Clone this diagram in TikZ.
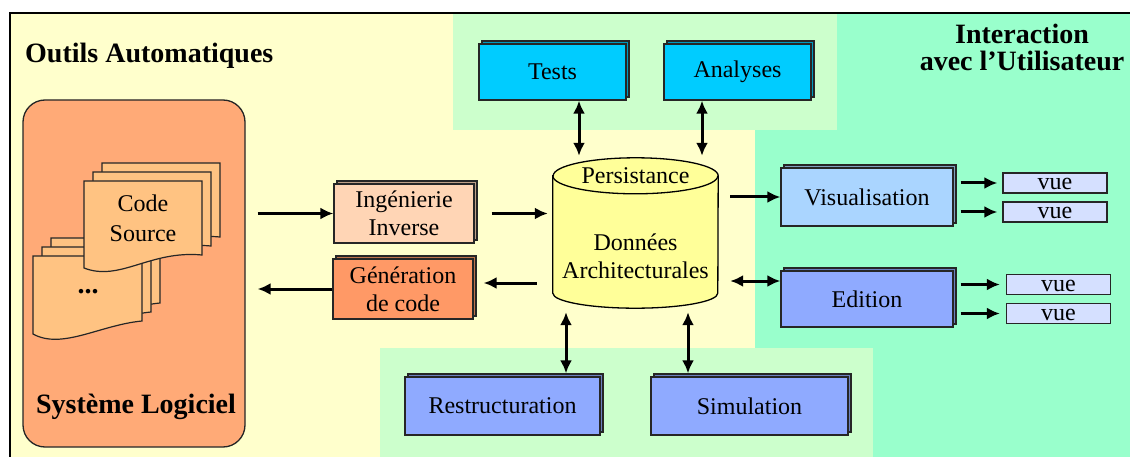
\documentclass[tikz,border=0pt]{standalone}
\usepackage{fontspec}
\setmainfont{Liberation Serif}
\usetikzlibrary{arrows.meta,shadows}

\definecolor{fondjaune}{HTML}{FFFFCC}
\definecolor{fondvert}{HTML}{CCFFCC}
\definecolor{fondmenthe}{HTML}{99FFCC}
\definecolor{orlogiciel}{HTML}{FFAA77}
\definecolor{orpage}{HTML}{FFC382}
\definecolor{peche}{HTML}{FFD5B5}
\definecolor{orgen}{HTML}{FF9966}
\definecolor{jaunedb}{HTML}{FFFF99}
\definecolor{cyanbox}{HTML}{00CCFF}
\definecolor{bleuvis}{HTML}{AAD5FF}
\definecolor{bleuedit}{HTML}{8FAAFF}
\definecolor{bleuvue}{HTML}{D5E0FF}

\tikzset{
  block/.style={draw=black!85, line width=1.3pt, fill=#1, inner sep=0pt,
    font=\fontsize{24}{28}\selectfont, align=center,
    copy shadow={shadow xshift=3pt, shadow yshift=3pt, fill=#1!75!black, draw=black!85}},
  vuebox/.style={draw=black!85, line width=1.3pt, fill=bleuvue, inner sep=0pt,
    minimum width=104pt, minimum height=20pt, text height=14pt, text depth=0pt,
    font=\fontsize{24}{28}\selectfont},
  page/.style={draw=black!85, line width=1.2pt, fill=orpage},
  link/.style={line width=3pt, >={Latex[length=13pt,width=12pt]}},
  titre/.style={font=\bfseries\fontsize{28}{25}\selectfont, inner sep=0pt},
  texte/.style={font=\fontsize{24}{28}\selectfont, inner sep=0pt, align=center}
}

\begin{document}
\begin{tikzpicture}[x=1pt, y=-1pt]
  \useasboundingbox (0,0) rectangle (1130,457);

  % zones de fond
  \fill[fondjaune] (10,13) rectangle (1130,457);
  \fill[fondmenthe] (755,13) rectangle (1130,457);
  \fill[fondvert] (453,13) rectangle (837,130);
  \fill[fondvert] (380,348) rectangle (873,457);
  \draw[line width=1.5pt] (10,457) -- (10,13) -- (1130,13);

  \node[titre, anchor=base west] (outils) at (25,63) {Outils Automatiques};
  \node[titre, anchor=base] (interaction) at (1022,44) {Interaction};
  \node[titre, anchor=base] (utilisateur) at (1022,71) {avec l’Utilisateur};

  % systeme logiciel
  \node[draw=black!85, line width=1.3pt, fill=orlogiciel, rounded corners=22pt,
    minimum width=222pt, minimum height=347pt] (sys) at (134,273.5) {};
  \node[titre, anchor=base] (syslabel) at (136,413) {Système Logiciel};

  % piles de pages
  \foreach \d in {18,9,0}
    \draw[page, shift={(\d,-\d)}] (33,256) -- (142,256) -- (142,321)
      .. controls (100,325) and (62,350) .. (33,334) -- cycle;
  \foreach \d in {18,9,0}
    \draw[page, shift={(\d,-\d)}] (84,181) -- (202,181) -- (202,255)
      .. controls (150,250) and (120,282) .. (84,268) -- cycle;
  \node[texte, font=\fontsize{24}{30}\selectfont] (src) at (143,218) {Code\\Source};
  \node[titre] (dots) at (88,292) {...};

  % blocs
  \node[block=cyanbox, minimum width=147pt, minimum height=56pt] (tests) at (552.5,72) {Tests};
  \node[block=cyanbox, minimum width=147pt, minimum height=56pt] (analyses) at (737.5,72) {Analyses};
  \node[block=peche, minimum width=140pt, minimum height=59pt] (inverse) at (404,213.5) {Ingénierie\\Inverse};
  \node[block=orgen, minimum width=140pt, minimum height=60pt] (generation) at (403,289) {Génération\\de code};
  \node[block=bleuvis, minimum width=172pt, minimum height=58pt] (visu) at (867,197) {Visualisation};
  \node[block=bleuedit, minimum width=172pt, minimum height=56pt] (edition) at (867,299) {Edition};
  \node[block=bleuedit, minimum width=195pt, minimum height=58pt] (restruct) at (502.5,406) {Restructuration};
  \node[block=bleuedit, minimum width=197pt, minimum height=58pt] (simul) at (749.5,406) {Simulation};

  \node[vuebox] (vue1) at (1055,183) {vue};
  \node[vuebox] (vue2) at (1055,212) {vue};
  \node[vuebox] (vue3) at (1058.5,284.5) {vue};
  \node[vuebox] (vue4) at (1058.5,313.5) {vue};

  % base de donnees
  \node[minimum width=165pt, minimum height=150pt, inner sep=0pt] (db) at (635.5,233) {};
  \draw[fill=jaunedb, line width=1.3pt] ([yshift=-18pt]db.north west) -- ([yshift=15pt]db.south west)
    arc[start angle=180, end angle=360, x radius=82.5pt, y radius=15pt]
    -- ([yshift=-18pt]db.north east)
    arc[start angle=0, end angle=180, x radius=82.5pt, y radius=18pt] -- cycle;
  \draw[line width=1.3pt] ([yshift=-18pt]db.north west)
    arc[start angle=180, end angle=360, x radius=82.5pt, y radius=18pt];
  \node[texte] (persist) at ([yshift=-18pt]db.north) {Persistance};
  \node[texte] (donnees) at ([yshift=-23.5pt]db.center) {Données\\Architecturales};

  % fleches
  \draw[link, ->, shorten <=12pt] (sys.east |- inverse.west) -- (inverse.west);
  \draw[link, ->, shorten >=12pt] (generation.west) -- (sys.east |- generation.west);
  \draw[link, ->, shorten <=17pt, shorten >=5pt] (inverse.east) -- (inverse.east -| db.west);
  \draw[link, ->, shorten <=16pt, shorten >=10pt] ([yshift=6pt]generation.east -| db.west) -- ([yshift=6pt]generation.east);
  \draw[link, <->, shorten >=2pt] ([xshift=26.5pt]tests.south) -- ([xshift=26.5pt]tests.south |- db.north);
  \draw[link, <->, shorten >=2pt] ([xshift=-35.5pt]analyses.south) -- ([xshift=-35.5pt]analyses.south |- db.north);
  \draw[link, <->, shorten <=4pt, shorten >=3pt] ([xshift=63.5pt]restruct.north |- db.south) -- ([xshift=63.5pt]restruct.north);
  \draw[link, <->, shorten <=4pt, shorten >=3pt] ([xshift=-61.5pt]simul.north |- db.south) -- ([xshift=-61.5pt]simul.north);
  \draw[link, ->, shorten <=12pt] (db.east |- visu.west) -- (visu.west);
  \draw[link, <->, shorten <=12pt] ([yshift=18pt]edition.west -| db.east) -- ([yshift=18pt]edition.west);
  \draw[link, ->, shorten <=7pt, shorten >=5pt] (visu.east |- vue1.west) -- (vue1.west);
  \draw[link, ->, shorten <=7pt, shorten >=5pt] (visu.east |- vue2.west) -- (vue2.west);
  \draw[link, ->, shorten <=7pt, shorten >=6pt] (edition.east |- vue3.west) -- (vue3.west);
  \draw[link, ->, shorten <=7pt, shorten >=6pt] (edition.east |- vue4.west) -- (vue4.west);
\end{tikzpicture}
\end{document}
